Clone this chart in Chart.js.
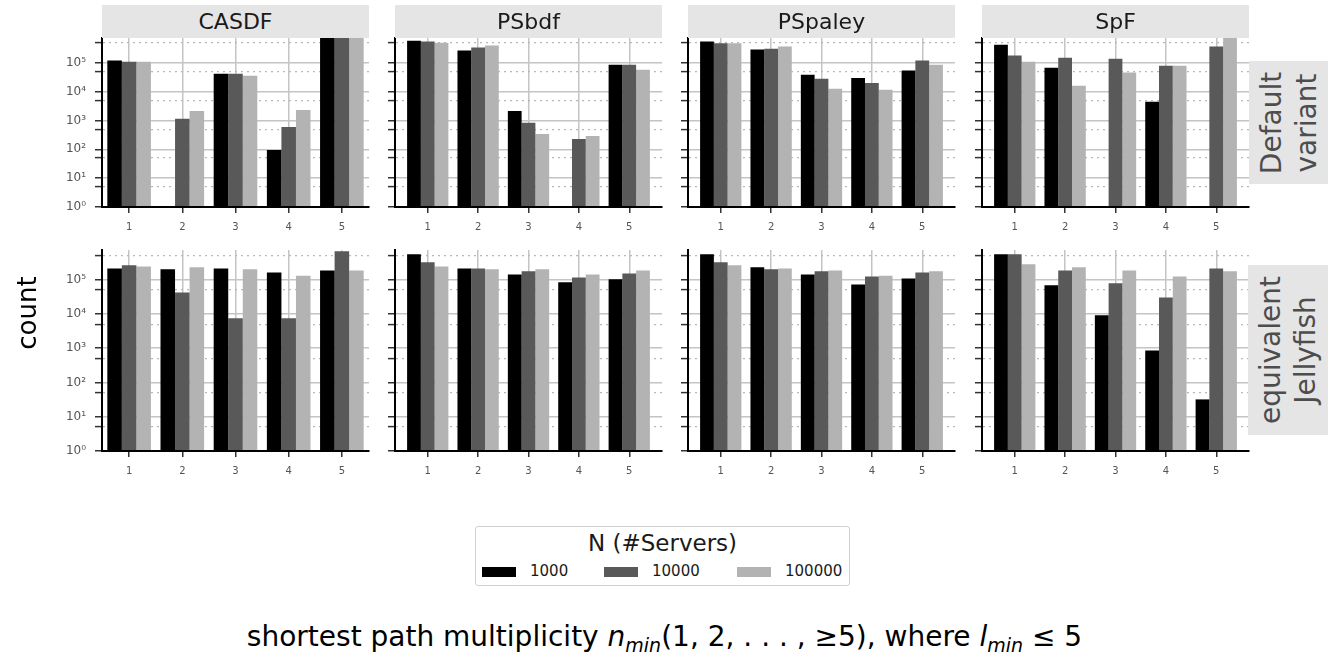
<!DOCTYPE html>
<html>
<head>
<meta charset="utf-8">
<script src="https://cdn.jsdelivr.net/npm/chart.js@4.4.1/dist/chart.umd.min.js"></script>
<style>
  body { margin: 0; background: #fff; font-family: "DejaVu Sans", sans-serif; }
  #page { position: relative; width: 1329px; height: 657px; overflow: hidden; }
  .panel { position: absolute; }
  .strip { position: absolute; background: #e5e5e5; color: #1a1a1a; font-size: 22px; text-align: center; height: 33px; line-height: 33px; }
  .rstrip { position: absolute; background: #e5e5e5; }
  .rstrip span { position: absolute; left: 50%; top: 50%; transform: translate(-50%, -50%) rotate(-90deg);
    white-space: nowrap; font-size: 28px; line-height: 35px; color: #4d4d4d; text-align: center; }
  #ytitle { position: absolute; left: 27px; top: 313px; transform: translate(-50%, -50%) rotate(-90deg); font-size: 26px; color: #000; white-space: nowrap; }
  #xtitle { position: absolute; left: 0; width: 1329px; top: 620px; text-align: center; font-size: 28px; color: #000; white-space: nowrap; }
  #xtitle sub { font-size: 19px; vertical-align: -6px; line-height: 0; }
  #legend { position: absolute; left: 475px; top: 526px; width: 375px; height: 60px; border: 1px solid #d0d0d0; border-radius: 3px; box-sizing: border-box; }
  #legend .ltitle { position: absolute; left: 0; width: 100%; top: 3px; text-align: center; font-size: 23px; color: #1a1a1a; }
  #legend .key { position: absolute; top: 40px; width: 34px; height: 10px; }
  #legend .lab { position: absolute; top: 35px; font-size: 15px; color: #1a1a1a; }
</style>
</head>
<body>
<div id="page"></div>
<script>
// categories
const multiplicity = [1, 2, 3, 4, 5];
const servers = ['1000', '10000', '100000'];
const topologies = ['CASDF', 'PSbdf', 'PSpaley', 'SpF'];
const variants = [['Default', 'variant'], ['equivalent', 'Jellyfish']];
const barColors = ['#000000', '#595959', '#b3b3b3'];

// y ticks (log scale): majors at 10^k, minors at 5*10^k
const yTickValues = [1, 5, 10, 50, 100, 500, 1000, 5000, 1e4, 5e4, 1e5, 5e5];
const yMin = 1;
const yMax = 7.3e5;

// rows: N=1000, N=10000, N=100000 ; columns: multiplicity 1..5
const casdfDefault = [
  [1.2e5, null, 4.2e4, 95, 9.0e5],
  [1.1e5, 1150, 4.2e4, 600, 8.8e5],
  [1.1e5, 2150, 3.6e4, 2300, 8.8e5]
];
const psbdfDefault = [
  [5.9e5, 2.7e5, 2150, null, 8.7e4],
  [5.5e5, 3.4e5, 830, 230, 8.7e4],
  [5.0e5, 4.0e5, 340, 290, 5.8e4]
];
const pspaleyDefault = [
  [5.5e5, 2.9e5, 3.9e4, 3.0e4, 5.4e4],
  [4.8e5, 3.1e5, 2.8e4, 2.0e4, 1.2e5],
  [4.8e5, 3.7e5, 1.27e4, 1.17e4, 8.7e4]
];
const spfDefault = [
  [4.3e5, 6.8e4, null, 4.5e3, null],
  [1.8e5, 1.5e5, 1.4e5, 7.9e4, 3.7e5],
  [1.1e5, 1.6e4, 4.6e4, 7.9e4, 8.0e5]
];
const casdfJellyfish = [
  [2.1e5, 2.0e5, 2.1e5, 1.6e5, 1.85e5],
  [2.6e5, 4.2e4, 7.4e3, 7.4e3, 6.7e5],
  [2.4e5, 2.3e5, 2.0e5, 1.3e5, 1.85e5]
];
const psbdfJellyfish = [
  [5.5e5, 2.1e5, 1.4e5, 8.3e4, 1.02e5],
  [3.2e5, 2.1e5, 1.75e5, 1.15e5, 1.5e5],
  [2.4e5, 2.0e5, 2.0e5, 1.4e5, 1.85e5]
];
const pspaleyJellyfish = [
  [5.5e5, 2.3e5, 1.4e5, 7.2e4, 1.08e5],
  [3.2e5, 2.0e5, 1.75e5, 1.24e5, 1.6e5],
  [2.6e5, 2.1e5, 1.85e5, 1.3e5, 1.75e5]
];
const spfJellyfish = [
  [5.5e5, 6.8e4, 9.1e3, 860, 32],
  [5.5e5, 1.85e5, 7.8e4, 3.0e4, 2.1e5],
  [2.8e5, 2.3e5, 1.85e5, 1.24e5, 1.75e5]
];

const panels = [
  [casdfDefault, psbdfDefault, pspaleyDefault, spfDefault],
  [casdfJellyfish, psbdfJellyfish, pspaleyJellyfish, spfJellyfish]
];

// layout of the facet grid
const panelLeft = [102, 395, 688, 982];
const panelW = 267;
const rowTop = [38, 250];
const rowH = [169, 201];
const xRange = [[0.49, 5.51], [0.35, 5.65], [0.35, 5.65], [0.35, 5.65]];
const yAxisW = 50, xAxisH = 30, padTop = 20, padRight = 6;

const sup = ['\u2070', '\u00b9', '\u00b2', '\u00b3', '\u2074', '\u2075', '\u2076'];
function isMajor(v) {
  const l = Math.log10(v);
  return Math.abs(l - Math.round(l)) < 1e-9;
}

const page = document.getElementById('page');

function makePanel(row, col) {
  const data = panels[row][col];
  const box = document.createElement('div');
  box.className = 'panel';
  box.style.left = (panelLeft[col] - yAxisW) + 'px';
  box.style.top = (rowTop[row] - padTop) + 'px';
  const canvas = document.createElement('canvas');
  canvas.width = yAxisW + panelW + padRight;
  canvas.height = padTop + rowH[row] + xAxisH;
  box.appendChild(canvas);
  page.appendChild(box);

  new Chart(canvas, {
    type: 'bar',
    data: {
      labels: multiplicity,
      datasets: servers.map((s, i) => ({
        label: s,
        data: data[i],
        backgroundColor: barColors[i],
        borderWidth: 0,
        categoryPercentage: 0.82,
        barPercentage: 1.0
      }))
    },
    options: {
      responsive: false,
      animation: false,
      layout: { padding: { top: padTop, right: padRight, bottom: 0, left: 0 } },
      plugins: { legend: { display: false }, tooltip: { enabled: false } },
      scales: {
        x: {
          type: 'linear',
          min: xRange[col][0],
          max: xRange[col][1],
          offset: false,
          afterBuildTicks: s => { s.ticks = multiplicity.map(v => ({ value: v })); },
          afterFit: s => { s.height = xAxisH; s.paddingLeft = 0; s.paddingRight = 0; },
          ticks: { color: '#555', font: { family: 'DejaVu Sans', size: 10 }, padding: 8, autoSkip: false,
                   maxRotation: 0, callback: v => String(v) },
          grid: { color: '#c4c4c4', lineWidth: 1.5, offset: false, tickColor: '#333', tickLength: 6, tickWidth: 1.5 },
          border: { color: '#000', width: 2, z: 1 }
        },
        y: {
          type: 'logarithmic',
          min: yMin,
          max: yMax,
          afterBuildTicks: s => { s.ticks = yTickValues.map(v => ({ value: v })); },
          afterFit: s => { s.width = yAxisW; s.paddingTop = 0; s.paddingBottom = 0; },
          ticks: {
            color: '#555', font: { family: 'DejaVu Sans', size: 12 }, padding: 9, autoSkip: false,
            callback: v => (col === 0 && isMajor(v)) ? '10' + sup[Math.round(Math.log10(v))] : ''
          },
          grid: {
            color: c => (c.tick && !isMajor(c.tick.value)) ? '#b8b8b8' : '#c4c4c4',
            lineWidth: c => (c.tick && !isMajor(c.tick.value)) ? 1.2 : 1.5,
            tickColor: '#333', tickLength: 7, tickWidth: 1.5
          },
          border: {
            color: '#000', width: 2, z: 1,
            dash: c => (c.tick && !isMajor(c.tick.value)) ? [2, 4] : []
          }
        }
      }
    }
  });
}

for (let r = 0; r < 2; r++) {
  for (let c = 0; c < 4; c++) makePanel(r, c);
}

// facet strips on top
topologies.forEach((t, c) => {
  const d = document.createElement('div');
  d.className = 'strip';
  d.style.left = panelLeft[c] + 'px';
  d.style.top = '5px';
  d.style.width = panelW + 'px';
  d.textContent = t;
  page.appendChild(d);
});

// facet strips on the right
const rStripBoxes = [[1249, 61, 79, 123], [1248, 265, 80, 170]];
variants.forEach((v, r) => {
  const d = document.createElement('div');
  d.className = 'rstrip';
  const b = rStripBoxes[r];
  d.style.left = b[0] + 'px'; d.style.top = b[1] + 'px';
  d.style.width = b[2] + 'px'; d.style.height = b[3] + 'px';
  const sp = document.createElement('span');
  sp.innerHTML = v.join('<br>');
  d.appendChild(sp);
  page.appendChild(d);
});

// axis titles
const yt = document.createElement('div');
yt.id = 'ytitle';
yt.textContent = 'count';
page.appendChild(yt);

const xt = document.createElement('div');
xt.id = 'xtitle';
xt.innerHTML = 'shortest path multiplicity <i>n</i><sub><i>min</i></sub>(1, 2, . . . , \u22655), where <i>l</i><sub><i>min</i></sub> \u2264 5';
page.appendChild(xt);

// legend
const lg = document.createElement('div');
lg.id = 'legend';
let html = '<div class="ltitle">N (#Servers)</div>';
const keyX = [6, 128, 261];
const labX = [54, 176, 309];
servers.forEach((s, i) => {
  html += '<div class="key" style="left:' + keyX[i] + 'px;background:' + barColors[i] + '"></div>';
  html += '<div class="lab" style="left:' + labX[i] + 'px">' + s + '</div>';
});
lg.innerHTML = html;
page.appendChild(lg);
</script>
</body>
</html>
